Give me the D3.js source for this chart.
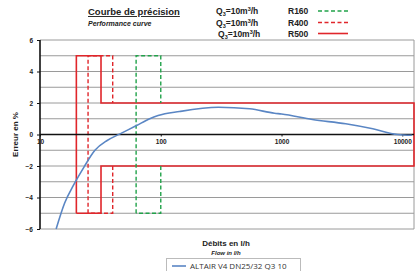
<!DOCTYPE html>
<html><head><meta charset="utf-8">
<script src="https://cdn.jsdelivr.net/npm/d3@7"></script>
<style>body{margin:0;background:#fff}svg{display:block;font-family:"Liberation Sans",Arial,sans-serif}</style>
</head><body><svg id="c" width="420" height="271"></svg>
<script>
// Data
const flows = [13.6, 16, 19, 23, 28.5, 36, 46, 63, 81, 95, 143, 300, 545, 875, 1000, 1800, 3400, 5700, 9100, 12000];
const errors = [-6, -4.35, -3.2, -2.1, -1.0, -0.38, 0.04, 0.57, 1.0, 1.2, 1.46, 1.73, 1.63, 1.35, 1.3, 0.95, 0.68, 0.36, 0.0, -0.05];
const xTicks = [10, 100, 1000, 10000];
const yTicks = [-6, -4, -2, 0, 2, 4, 6];
// Envelope limits: [Q1, Q2, Q4] in l/h, and MPE
const envR500 = [20, 32, 12500];
const envR400 = [25, 40, 12500];
const envR160 = [62.5, 100, 12500];
const mpeLow = 5, mpeHigh = 2;
const seriesName = "ALTAIR V4 DN25/32 Q3 10";

const svg = d3.select("#c");
const x = d3.scaleLog().domain([10, 12500]).range([40, 414]);
const y = d3.scaleLinear().domain([-6, 6]).range([229, 40]);

// gridlines
svg.append("g").selectAll("line").data(d3.range(-6, 7)).join("line")
  .attr("x1", 40).attr("x2", 414).attr("y1", d => y(d)).attr("y2", d => y(d))
  .attr("stroke", "#9a9a9a").attr("stroke-width", 1);
svg.append("line").attr("x1", 414).attr("x2", 414).attr("y1", y(6)).attr("y2", y(-6))
  .attr("stroke", "#9a9a9a").attr("stroke-width", 1);

// envelopes
function fullEnv(e) {
  const [q1, q2, q4] = e;
  return [[q1, -mpeLow], [q1, mpeLow], [q2, mpeLow], [q2, mpeHigh], [q4, mpeHigh], [q4, -mpeHigh], [q2, -mpeHigh], [q2, -mpeLow], [q1, -mpeLow]];
}
function partEnv(e) {
  const [q1, q2] = e;
  return [
    [[q1, -mpeLow], [q1, mpeLow], [q2, mpeLow], [q2, mpeHigh]],
    [[q2, -mpeHigh], [q2, -mpeLow], [q1, -mpeLow]]
  ];
}
const line = d3.line().x(d => x(d[0])).y(d => y(d[1]));
const red = "#e0262b", green = "#21a24a";
svg.append("path").attr("d", line(fullEnv(envR500))).attr("fill", "none")
  .attr("stroke", red).attr("stroke-width", 1.6);
partEnv(envR400).forEach(p => svg.append("path").attr("d", line(p)).attr("fill", "none")
  .attr("stroke", red).attr("stroke-width", 1.4).attr("stroke-dasharray", "4,2.5"));
partEnv(envR160).forEach(p => svg.append("path").attr("d", line(p)).attr("fill", "none")
  .attr("stroke", green).attr("stroke-width", 1.4).attr("stroke-dasharray", "4,2.5"));

// axes
svg.append("line").attr("x1", 40).attr("x2", 414).attr("y1", y(0)).attr("y2", y(0))
  .attr("stroke", "#111").attr("stroke-width", 1.4);
svg.append("line").attr("x1", 40).attr("x2", 40).attr("y1", y(6)).attr("y2", y(-6))
  .attr("stroke", "#111").attr("stroke-width", 1.6);
const yAxis = d3.axisLeft(y).tickValues(yTicks).tickSize(3).tickPadding(4).tickFormat(d3.format("d"));
const ga = svg.append("g").attr("transform", "translate(40,0)").call(yAxis);
ga.select(".domain").remove();
ga.selectAll("text").attr("font-size", 6.5).attr("font-weight", "bold").attr("fill", "#222").attr("font-family", "Liberation Sans, Arial");
ga.selectAll("line").attr("stroke", "#111");
const xAxis = d3.axisBottom(x).tickValues(xTicks).tickSize(2).tickPadding(3).tickFormat(d3.format("d"));
const gx = svg.append("g").attr("transform", `translate(0,${y(0)})`).call(xAxis);
gx.select(".domain").remove();
gx.selectAll("text").attr("font-size", 6.5).attr("font-weight", "bold").attr("fill", "#222").attr("font-family", "Liberation Sans, Arial");
gx.selectAll("line").attr("stroke", "#111");

// curve
const blue = "#5a86c4";
svg.append("path").datum(flows.map((f, i) => [f, errors[i]]))
  .attr("d", d3.line().x(d => x(d[0])).y(d => y(d[1])).curve(d3.curveMonotoneX))
  .attr("fill", "none").attr("stroke", blue).attr("stroke-width", 1.6);

// header texts
svg.append("text").attr("x", 88).attr("y", 15).attr("font-size", 9.5).attr("font-weight", "bold")
  .attr("fill", "#222").attr("text-decoration", "underline").text("Courbe de précision");
svg.append("text").attr("x", 88).attr("y", 26).attr("font-size", 7).attr("font-weight", "bold")
  .attr("font-style", "italic").attr("fill", "#222").text("Performance curve");
const qLabels = ["R160", "R400", "R500"];
const qY = [14, 25.5, 36.5];
qLabels.forEach((r, i) => {
  const t = svg.append("text").attr("x", i === 2 ? 218 : 216).attr("y", qY[i]).attr("font-size", 8.5)
    .attr("font-weight", "bold").attr("fill", "#222");
  t.append("tspan").text("Q");
  t.append("tspan").attr("font-size", 5.5).attr("dy", 2).text("3");
  t.append("tspan").attr("dy", -2).text("=10m");
  t.append("tspan").attr("font-size", 5.5).attr("dy", -3).text("3");
  t.append("tspan").attr("dy", 3).text("/h");
  svg.append("text").attr("x", 288).attr("y", qY[i]).attr("font-size", 8.5).attr("font-weight", "bold")
    .attr("fill", "#222").text(r);
  svg.append("line").attr("x1", 318).attr("x2", 348).attr("y1", qY[i] - 3).attr("y2", qY[i] - 3)
    .attr("stroke", i === 0 ? green : red).attr("stroke-width", 1.6)
    .attr("stroke-dasharray", i === 2 ? null : "4,2.5");
});

// axis titles
svg.append("text").attr("transform", `translate(18,${y(0)}) rotate(-90)`).attr("text-anchor", "middle")
  .attr("font-size", 8).attr("font-weight", "bold").attr("fill", "#222").text("Erreur en %");
svg.append("text").attr("x", 226).attr("y", 246).attr("text-anchor", "middle")
  .attr("font-size", 8).attr("font-weight", "bold").attr("fill", "#222").text("Débits en l/h");
svg.append("text").attr("x", 226).attr("y", 255).attr("text-anchor", "middle")
  .attr("font-size", 6).attr("font-weight", "bold").attr("font-style", "italic").attr("fill", "#222").text("Flow in l/h");

// legend
svg.append("rect").attr("x", 166.5).attr("y", 258.5).attr("width", 134).attr("height", 16)
  .attr("fill", "#fff").attr("stroke", "#bbb");
svg.append("line").attr("x1", 172).attr("x2", 186).attr("y1", 266).attr("y2", 266)
  .attr("stroke", blue).attr("stroke-width", 1.6);
svg.append("text").attr("x", 190).attr("y", 269).attr("font-size", 8).attr("fill", "#333")
  .attr("font-family", "Open Sans, Liberation Sans").text(seriesName);
</script></body></html>
